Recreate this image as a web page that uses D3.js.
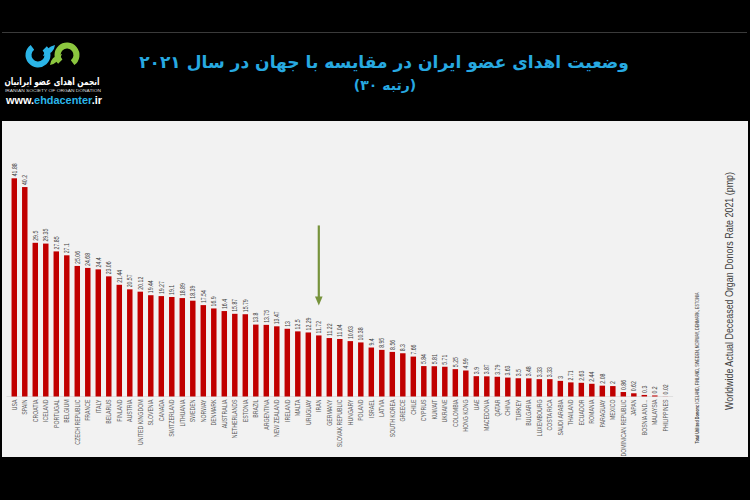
<!DOCTYPE html>
<html><head><meta charset="utf-8">
<script src="https://cdn.jsdelivr.net/npm/d3@7"></script>
<style>
html,body{margin:0;padding:0;background:#000;}
svg{display:block;}
</style></head>
<body>
<svg id="c" width="750" height="500"></svg>
<script>
const countries = ["USA","SPAIN","CROATIA","ICELAND","PORTUGAL","BELGIUM","CZECH REPUBLIC","FRANCE","ITALY","BELARUS","FINLAND","AUSTRIA","UNITED KINGDOM","SLOVENIA","CANADA","SWITZERLAND","LITHUANIA","SWEDEN","NORWAY","DENMARK","AUSTRALIA","NETHERLANDS","ESTONIA","BRAZIL","ARGENTINA","NEW ZEALAND","IRELAND","MALTA","URUGUAY","IRAN","GERMANY","SLOVAK REPUBLIC","HUNGARY","POLAND","ISRAEL","LATVIA","SOUTH KOREA","GREECE","CHILE","CYPRUS","KUWAIT","UKRAINE","COLOMBIA","HONG KONG","UAE","MACEDONIA","QATAR","CHINA","TURKEY","BULGARIA","LUXEMBOURG","COSTA RICA","SAUDI ARABIA","THAILAND","ECUADOR","ROMANIA","PARAGUAY","MEXICO","DOMINICAN REPUBLIC","JAPAN","BOSNIA AND...","MALAYSIA","PHILIPPINES"];
const values = [41.88,40.2,29.5,29.35,27.85,27.1,25.06,24.68,24.4,23.06,21.44,20.57,20.12,19.44,19.27,19.1,18.89,18.39,17.54,16.9,16.4,15.87,15.79,13.8,13.75,13.47,13,12.5,12.29,11.72,11.22,11.04,10.63,10.38,9.4,8.95,8.56,8.3,7.66,5.84,5.81,5.71,5.25,4.99,3.9,3.87,3.79,3.63,3.5,3.48,3.33,3.33,3,2.71,2.63,2.44,2.08,2,0.86,0.62,0.3,0.2,0.02];
const highlight = "IRAN";
const titleText = "وضعیت اهدای عضو ایران در مقایسه با جهان در سال ۲۰۲۱";
const subtitleText = "(رتبه ۳۰)";
const axisTitle = "Worldwide Actual Deceased Organ Donors Rate 2021 (pmp)";
const noteBold = "Total Utilized Donors:";
const noteText = " ICELAND, FINLAND, SWEDEN, NORWAY, DENMARK, ESTONIA";
const logoFa = "انجمن اهدای عضو ایرانیان";
const logoEn = "IRANIAN SOCIETY OF ORGAN DONATION";

const svg = d3.select("#c");
const narrow = "'Liberation Sans Narrow','Liberation Sans',Arial,sans-serif";

// background
svg.append("rect").attr("width",750).attr("height",500).attr("fill","#000");
svg.append("line").attr("x1",2).attr("x2",747).attr("y1",32.5).attr("y2",32.5)
  .attr("stroke","#3a3a3a").attr("stroke-width",1);

// logo
const logo = svg.append("g");
logo.append("path").attr("d", d3.arc()({innerRadius:6.5,outerRadius:12.5,startAngle:Math.PI*0.25,endAngle:Math.PI*1.8}))
  .attr("transform","translate(38,55)").attr("fill","#2bb5e8");
logo.append("path").attr("d","M43,56 Q46,47 55,45 Q54,54 43,56 Z").attr("fill","#2bb5e8");
logo.append("path").attr("d", d3.arc()({innerRadius:6.5,outerRadius:12.5,startAngle:Math.PI*1.25,endAngle:Math.PI*2.8}))
  .attr("transform","translate(67,55)").attr("fill","#8cc63f");
logo.append("path").attr("d","M62,54 Q59,63 50,65 Q51,56 62,54 Z").attr("fill","#8cc63f");
logo.append("text").attr("x",52).attr("y",85).attr("text-anchor","middle").attr("direction","rtl")
  .attr("fill","#fff").attr("font-family","'DejaVu Sans',sans-serif").attr("font-size",10).attr("font-weight","bold")
  .attr("textLength",95).attr("lengthAdjust","spacingAndGlyphs").text(logoFa);
logo.append("text").attr("x",53).attr("y",91.5).attr("text-anchor","middle")
  .attr("fill","#ddd").attr("font-family",narrow).attr("font-size",4.4)
  .attr("textLength",96).attr("lengthAdjust","spacingAndGlyphs").text(logoEn);
const www = logo.append("text").attr("x",54).attr("y",104).attr("text-anchor","middle")
  .attr("font-family","'Liberation Sans',Arial,sans-serif").attr("font-size",10.5).attr("font-weight","bold")
  .attr("textLength",96).attr("lengthAdjust","spacingAndGlyphs");
www.append("tspan").attr("fill","#fff").text("www.");
www.append("tspan").attr("fill","#2bb5e8").text("ehdacenter");
www.append("tspan").attr("fill","#fff").text(".ir");

// title
const title = svg.append("text").attr("x",384).attr("y",68).attr("text-anchor","middle").attr("direction","rtl")
  .attr("fill","#27a9e1").attr("font-family","'DejaVu Sans',sans-serif").attr("font-weight","bold")
  .attr("font-size",22).text(titleText);
const tw = title.node().getComputedTextLength();
if (tw > 0) title.attr("font-size", 22*490/tw);
svg.append("text").attr("x",385).attr("y",90).attr("text-anchor","middle").attr("direction","rtl")
  .attr("fill","#27a9e1").attr("font-family","'DejaVu Sans',sans-serif").attr("font-weight","bold")
  .attr("font-size",14).text(subtitleText);

// panel
svg.append("rect").attr("x",2).attr("y",121).attr("width",746).attr("height",336).attr("fill","#f2f2f2");

// scales
const x = d3.scaleBand().domain(countries).range([6.5,673.1]).paddingInner(0.48).paddingOuter(0.48);
const y = d3.scaleLinear().domain([0,45]).range([396.5,396.5-45*5.21]);
const data = countries.map((c,i)=>({c, v:values[i]}));

svg.append("line").attr("x1",x.range()[0]).attr("x2",x.range()[1]).attr("y1",y(0)).attr("y2",y(0))
  .attr("stroke","#d9d9d9").attr("stroke-width",0.8);

svg.append("g").selectAll("rect").data(data).join("rect")
  .attr("x",d=>x(d.c)).attr("width",x.bandwidth())
  .attr("y",d=>y(d.v)).attr("height",d=>y(0)-y(d.v))
  .attr("fill","#c00000");

// value labels (condensed along text direction)
svg.append("g").selectAll("text").data(data).join("text")
  .attr("transform",d=>`translate(${x(d.c)+x.bandwidth()/2},${y(d.v)-2}) rotate(-90) scale(0.72,1)`)
  .attr("dy","0.35em").attr("text-anchor","start")
  .attr("font-family",narrow).attr("font-size",7.2).attr("fill","#404040")
  .text(d=>String(d.v));

// category labels
svg.append("g").selectAll("text").data(data).join("text")
  .attr("transform",d=>`translate(${x(d.c)+x.bandwidth()/2},${y(0)+3}) rotate(-90) scale(0.8,1)`)
  .attr("dy","0.35em").attr("text-anchor","end")
  .attr("font-family",narrow).attr("font-size",6.5).attr("fill","#595959")
  .text(d=>d.c);

// arrow over highlighted
const ax = x(highlight)+x.bandwidth()/2;
const ay = y(values[countries.indexOf(highlight)]);
svg.append("line").attr("x1",ax).attr("x2",ax).attr("y1",ay-110).attr("y2",ay-37)
  .attr("stroke","#77933c").attr("stroke-width",2.2);
svg.append("path").attr("d",`M${ax-3.8},${ay-39} L${ax+3.8},${ay-39} L${ax},${ay-30} Z`).attr("fill","#77933c");

// right texts
svg.append("text").attr("transform","translate(729,291) rotate(-90)").attr("dy","0.35em")
  .attr("text-anchor","middle").attr("font-family",narrow).attr("font-size",11).attr("fill","#404040")
  .attr("textLength",238).attr("lengthAdjust","spacingAndGlyphs").text(axisTitle);
const note = svg.append("text").attr("transform","translate(697,368) rotate(-90)").attr("dy","0.35em")
  .attr("text-anchor","middle").attr("font-family",narrow).attr("font-size",4.6).attr("fill","#404040")
  .attr("textLength",151).attr("lengthAdjust","spacingAndGlyphs");
note.append("tspan").attr("font-weight","bold").text(noteBold);
note.append("tspan").text(noteText);
</script>
</body></html>
